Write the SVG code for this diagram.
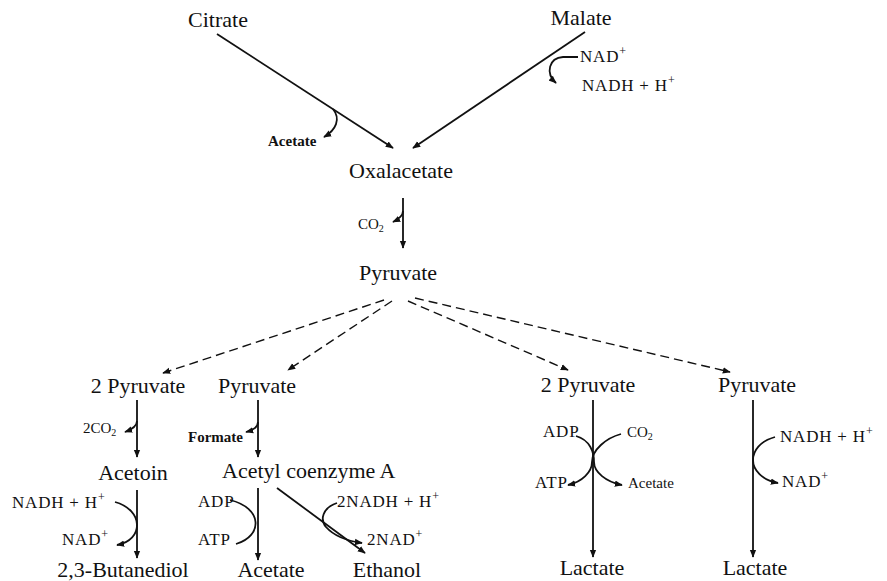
<svg xmlns="http://www.w3.org/2000/svg" width="887" height="581" viewBox="0 0 887 581">
<defs>
<marker id="ah" viewBox="0 0 10 10" refX="9" refY="5" markerWidth="8" markerHeight="8" markerUnits="userSpaceOnUse" orient="auto"><path d="M0,1 L10,5 L0,9 z" fill="#111"/></marker>
<style>
.main{font-family:"Liberation Serif","Times New Roman",serif;font-size:22px;fill:#111}
.med{font-family:"Liberation Serif","Times New Roman",serif;font-size:17px;letter-spacing:0.8px;fill:#111}
.sm{font-family:"Liberation Serif","Times New Roman",serif;font-size:15px;font-weight:bold;fill:#111}
.smn{font-family:"Liberation Serif","Times New Roman",serif;font-size:15px;fill:#111}
.c{text-anchor:middle}
.ln{fill:none;stroke:#111;stroke-width:1.8}
.arr{marker-end:url(#ah)}
.dash{fill:none;stroke:#111;stroke-width:1.4;stroke-dasharray:9 5;marker-end:url(#ah)}
</style>
</defs>
<rect width="887" height="581" fill="#fff"/>
<g id="citrate"><text class="main c" x="218" y="27">Citrate</text></g>
<g id="malate"><text class="main c" x="581" y="25">Malate</text></g>
<g id="oxalacetate"><text class="main c" x="401" y="178">Oxalacetate</text></g>
<g id="pyruvate"><text class="main c" x="398" y="280">Pyruvate</text></g>
<g id="pyr2a"><text class="main c" x="138" y="393">2 Pyruvate</text></g>
<g id="pyrb"><text class="main c" x="257" y="393">Pyruvate</text></g>
<g id="pyr2c"><text class="main c" x="588" y="392">2 Pyruvate</text></g>
<g id="pyrd"><text class="main c" x="757" y="392">Pyruvate</text></g>
<g id="acetoin"><text class="main c" x="133" y="480">Acetoin</text></g>
<g id="acetylcoa"><text class="main" x="222" y="478">Acetyl coenzyme A</text></g>
<g id="butanediol"><text class="main c" x="123" y="577">2,3-Butanediol</text></g>
<g id="acetate-out"><text class="main c" x="271" y="577">Acetate</text></g>
<g id="ethanol"><text class="main c" x="387" y="577">Ethanol</text></g>
<g id="lactate1"><text class="main c" x="592" y="575">Lactate</text></g>
<g id="lactate2"><text class="main c" x="755" y="575">Lactate</text></g>
<g id="side-labels">
<text class="sm" x="268" y="146">Acetate</text>
<text class="med" x="580" y="62">NAD<tspan font-size="12" dy="-7">+</tspan></text>
<text class="med" x="582" y="91">NADH + H<tspan font-size="12" dy="-7">+</tspan></text>
<text class="smn" x="358" y="229">CO<tspan font-size="10" dy="3">2</tspan></text>
<text class="smn" x="83" y="433">2CO<tspan font-size="10" dy="3">2</tspan></text>
<text class="sm" x="188" y="442">Formate</text>
<text class="med" x="12" y="508">NADH + H<tspan font-size="12" dy="-7">+</tspan></text>
<text class="med" x="62" y="545">NAD<tspan font-size="12" dy="-7">+</tspan></text>
<text class="med" x="198" y="507">ADP</text>
<text class="med" x="198" y="545">ATP</text>
<text class="med" x="337" y="507">2NADH + H<tspan font-size="12" dy="-7">+</tspan></text>
<text class="med" x="367" y="545">2NAD<tspan font-size="12" dy="-7">+</tspan></text>
<text class="med" x="543" y="437">ADP</text>
<text class="smn" x="627" y="437">CO<tspan font-size="10" dy="3">2</tspan></text>
<text class="med" x="535" y="488">ATP</text>
<text class="smn" x="628" y="488">Acetate</text>
<text class="med" x="780" y="442">NADH + H<tspan font-size="12" dy="-7">+</tspan></text>
<text class="med" x="782" y="487">NAD<tspan font-size="12" dy="-7">+</tspan></text>
</g>
<g id="connectors">
<line class="ln arr" x1="217" y1="34" x2="393" y2="148"/>
<path class="ln arr" d="M333,109 C341,119 336,130 324,137"/>
<line class="ln arr" x1="585" y1="32" x2="413" y2="148"/>
<path class="ln arr" d="M578,57 L563,57 C549,58 545,73 556,83"/>
<line class="ln arr" x1="403" y1="198" x2="403" y2="248"/>
<path class="ln arr" d="M403,211 C403,216 399,219 393,222"/>
<line class="dash" x1="384" y1="300" x2="163" y2="373"/>
<line class="dash" x1="392" y1="301" x2="288" y2="370"/>
<line class="dash" x1="408" y1="301" x2="568" y2="370"/>
<line class="dash" x1="415" y1="298" x2="730" y2="372"/>
<line class="ln arr" x1="137" y1="400" x2="137" y2="457"/>
<path class="ln arr" d="M137,421 C137,426 133,429 125,432"/>
<line class="ln arr" x1="137" y1="490" x2="137" y2="558"/>
<path class="ln arr" d="M115,502 C144,510 144,540 117,545"/>
<line class="ln arr" x1="258" y1="400" x2="258" y2="457"/>
<path class="ln arr" d="M258,422 C258,427 254,430 246,432"/>
<line class="ln arr" x1="258" y1="488" x2="258" y2="560"/>
<path class="ln" d="M230,500 C263,508 263,536 236,544"/>
<line class="ln arr" x1="277" y1="488" x2="365" y2="553"/>
<path class="ln arr" d="M337,503 C322,508 320,520 326,527 C334,536 348,541 362,543"/>
<line class="ln arr" x1="593" y1="400" x2="593" y2="557"/>
<path class="ln arr" d="M576,436 C590,440 594,452 594,462 C594,472 606,482 622,485"/>
<path class="ln arr" d="M621,434 C606,438 592,450 592,462 C592,472 582,482 568,485"/>
<line class="ln arr" x1="753" y1="400" x2="753" y2="557"/>
<path class="ln arr" d="M775,437 C760,441 753,451 753,460 C753,470 762,480 778,483"/>
</g>
</svg>
